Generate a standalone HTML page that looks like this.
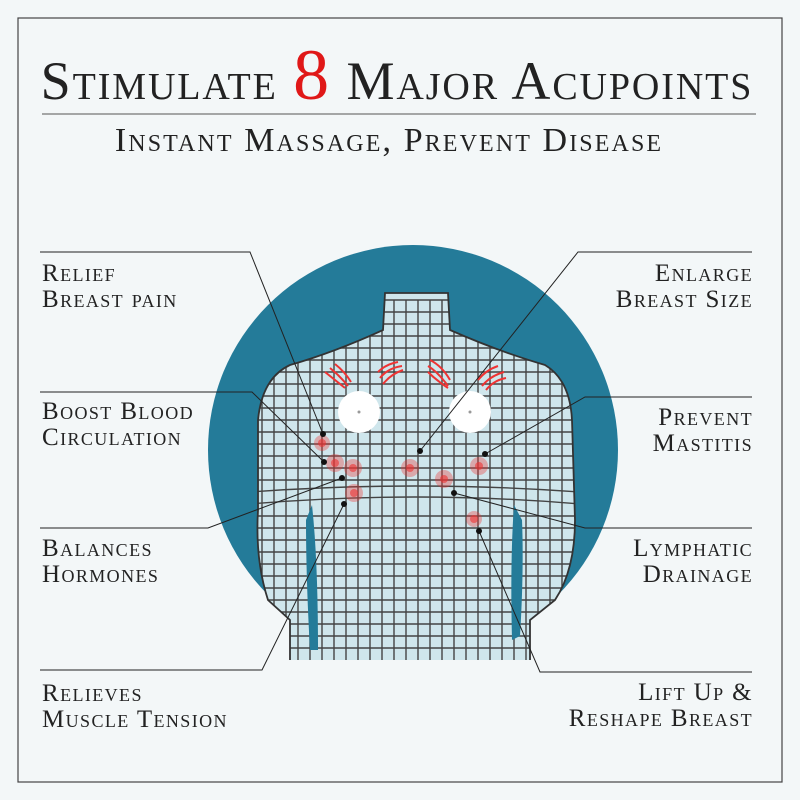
<!DOCTYPE html>
<html><head><meta charset="utf-8"><style>
body{margin:0;background:#f3f7f8;}
svg{display:block}
.t{font-family:"Liberation Serif",serif;font-variant:small-caps;fill:#222;}
</style></head><body>
<svg width="800" height="800" viewBox="0 0 800 800" xmlns="http://www.w3.org/2000/svg">
<rect width="800" height="800" fill="#f3f7f8"/>
<rect x="18" y="18" width="764" height="764" fill="none" stroke="#444" stroke-width="1.2"/>
<text x="397" y="99" text-anchor="middle" class="t" font-size="54" letter-spacing="1.9">Stimulate <tspan fill="#e01818" font-size="72" font-variant="normal">8</tspan> Major Acupoints</text>
<line x1="42" y1="114" x2="756" y2="114" stroke="#555" stroke-width="1"/>
<text x="389" y="151" text-anchor="middle" class="t" font-size="34" letter-spacing="2.1">Instant Massage, Prevent Disease</text>
<circle cx="413" cy="450" r="205" fill="#247b99"/>
<defs><clipPath id="b"><path d="M385 293 L448 293 L450 330 Q500 352 545 365 Q570 380 572 420 L575 520 Q575 570 555 600 L530 620 L530 660 L290 660 L290 620 L268 600 Q255 560 258 510 L258 420 Q262 378 290 365 Q335 352 383 330 Z"/></clipPath></defs>
<g clip-path="url(#b)">
<rect x="250" y="285" width="330" height="380" fill="#cfe6ec"/>
</g>
<g clip-path="url(#b)" stroke="#444" stroke-width="1.4" fill="none">
<path d="M262 300V660M274 300V660M286 300V660M298 300V660M310 300V660M322 300V660M334 300V660M346 300V660M358 300V660M370 300V660M382 300V660M394 300V660M406 300V660M418 300V660M430 300V660M442 300V660M454 300V660M466 300V660M478 300V660M490 300V660M502 300V660M514 300V660M526 300V660M538 300V660M550 300V660M562 300V660"/>
<path d="M250 300H580M250 312H580M250 324H580M250 336H580M250 348H580M250 360H580M250 372H580M250 384H580M250 396H580M250 408H580M250 420H580M250 432H580M250 444H580M250 456H580M250 468H580M250 480H580M250 492Q415 480 580 492M250 504Q415 490 580 504M250 516H580M250 528H580M250 540H580M250 552H580M250 564H580M250 576H580M250 588H580M250 600H580M250 612H580M250 624H580M250 636H580M250 648H580"/>
</g>
<path d="M290 660 L290 620 L268 600 Q255 560 258 510 L258 420 Q262 378 290 365 Q335 352 383 330 L385 293 L448 293 L450 330 Q500 352 545 365 Q570 380 572 420 L575 520 Q575 570 555 600 L530 620 L530 660" fill="none" stroke="#333" stroke-width="1.8"/>
<path d="M312 505 Q318 560 318 650 L310 650 Q306 580 306 520 Z" fill="#247b99"/>
<path d="M514 505 Q510 560 512 640 L520 636 Q524 570 522 520 Z" fill="#247b99"/>
<circle cx="359" cy="412" r="21" fill="#fff"/>
<circle cx="470" cy="412" r="21" fill="#fff"/>
<g fill="#999"><circle cx="359" cy="412" r="1.5"/><circle cx="470" cy="412" r="1.5"/></g>
<g fill="none" stroke="#e33" stroke-width="2">
<path d="M325 372q10 8 20 16M330 368q10 8 18 18M335 364q10 8 16 18"/>
<path d="M378 372q8 -8 20 -10M380 378q8 -10 22 -12M383 384q8 -10 20 -14"/>
<path d="M428 372q8 8 20 16M428 366q10 6 20 20M430 360q12 6 20 20"/>
<path d="M478 380q8 -10 20 -14M482 386q8 -10 22 -14M486 390q8 -10 20 -12"/>
</g>
<g fill="#e33" opacity="0.35">
<circle cx="322" cy="443" r="8"/><circle cx="335" cy="463" r="9"/><circle cx="353" cy="468" r="9"/><circle cx="354" cy="493" r="9"/>
<circle cx="410" cy="468" r="9"/><circle cx="444" cy="479" r="9"/><circle cx="479" cy="466" r="9"/><circle cx="474" cy="519" r="8"/>
</g>
<g fill="#e33" opacity="0.6">
<circle cx="322" cy="443" r="4"/><circle cx="335" cy="463" r="4"/><circle cx="353" cy="468" r="4"/><circle cx="354" cy="493" r="4"/>
<circle cx="410" cy="468" r="4"/><circle cx="444" cy="479" r="4"/><circle cx="479" cy="466" r="4"/><circle cx="474" cy="519" r="4"/>
</g>
<g stroke="#222" stroke-width="1" fill="none">
<polyline points="40,252 250,252 323,434"/>
<polyline points="40,392 252,392 324,462"/>
<polyline points="40,528 208,528 342,478"/>
<polyline points="40,670 262,670 344,504"/>
<polyline points="752,252 578,252 420,451"/>
<polyline points="752,397 585,397 485,454"/>
<polyline points="752,528 585,528 454,493"/>
<polyline points="752,672 540,672 479,531"/>
</g>
<g fill="#111">
<circle cx="323" cy="434" r="3"/><circle cx="324" cy="462" r="3"/><circle cx="342" cy="478" r="3"/><circle cx="344" cy="504" r="3"/>
<circle cx="420" cy="451" r="3"/><circle cx="485" cy="454" r="3"/><circle cx="454" cy="493" r="3"/><circle cx="479" cy="531" r="3"/>
</g>
<g class="t" font-size="25" letter-spacing="1.4">
<text x="42" y="281">Relief</text><text x="42" y="307">Breast pain</text>
<text x="42" y="419">Boost Blood</text><text x="42" y="445">Circulation</text>
<text x="42" y="556">Balances</text><text x="42" y="582">Hormones</text>
<text x="42" y="701">Relieves</text><text x="42" y="727">Muscle Tension</text>
</g>
<g class="t" font-size="25" letter-spacing="1.4" text-anchor="end">
<text x="753" y="281">Enlarge</text><text x="753" y="307">Breast Size</text>
<text x="753" y="425">Prevent</text><text x="753" y="451">Mastitis</text>
<text x="753" y="556">Lymphatic</text><text x="753" y="582">Drainage</text>
<text x="753" y="700">Lift Up &amp;</text><text x="753" y="726">Reshape Breast</text>
</g>
</svg>
</body></html>
